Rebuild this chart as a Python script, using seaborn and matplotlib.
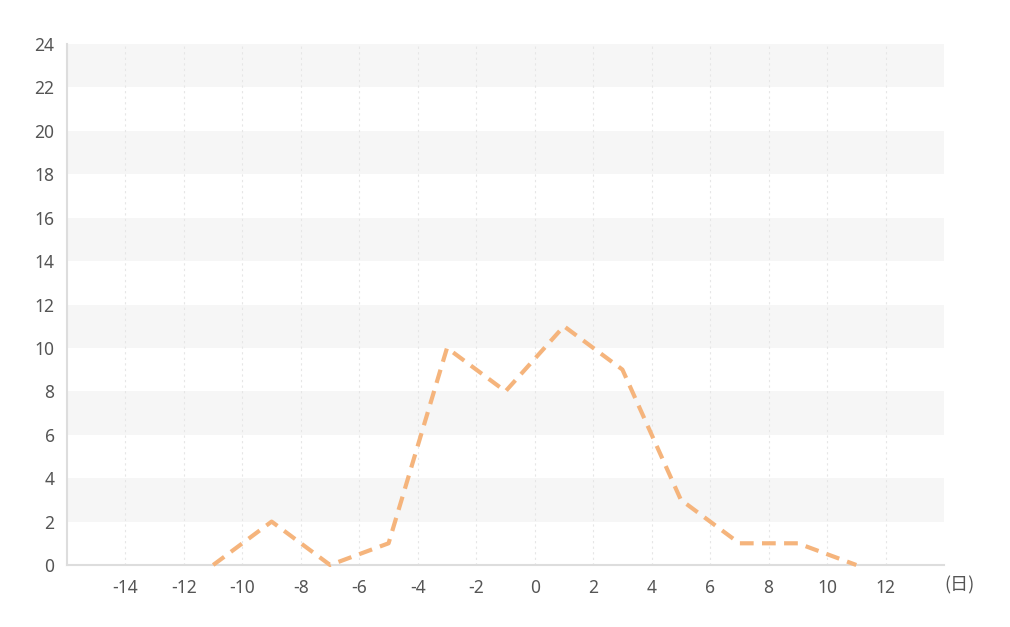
import matplotlib
matplotlib.use("Agg")
import matplotlib.pyplot as plt
import seaborn as sns
import pandas as pd

days = [-11, -9, -7, -5, -3, -1, 1, 3, 5, 7, 9, 11]
counts = [0, 2, 0, 1, 10, 8, 11, 9, 3, 1, 1, 0]
x_ticks = [-14, -12, -10, -8, -6, -4, -2, 0, 2, 4, 6, 8, 10, 12]
y_ticks = [0, 2, 4, 6, 8, 10, 12, 14, 16, 18, 20, 22, 24]
x_unit = "(日)"

sns.set_theme(style="white")
plt.rcParams['font.family'] = ['Noto Sans', 'Noto Sans CJK SC', 'DejaVu Sans']

fig = plt.figure(figsize=(10.1, 6.27), dpi=100)
ax = fig.add_axes([67/1010, 1-565/627, (944-67)/1010, (565-44)/627])

df = pd.DataFrame({"day": days, "count": counts})

# alternating bands
for i in range(len(y_ticks) - 1):
    if i % 2 == 1:
        ax.axhspan(y_ticks[i], y_ticks[i+1], color="#f6f6f6", lw=0, zorder=0)

for xt in x_ticks:
    ax.axvline(xt, color="#e6e6e6", lw=0.8, ls=(0, (2, 3)), zorder=1)

sns.lineplot(data=df, x="day", y="count", ax=ax, color="#f5b47c", lw=3,
             zorder=3, clip_on=False)
ax.lines[-1].set_dashes([3.3, 2.0])

ax.set_xlim(-16, 14)
ax.set_ylim(0, 24)
ax.set_xticks(x_ticks)
ax.set_yticks(y_ticks)
ax.set_xticklabels([str(v) for v in x_ticks])
ax.set_yticklabels([str(v) for v in y_ticks])
ax.tick_params(axis="x", labelsize=12.5, colors="#555555", length=0, pad=10)
ax.tick_params(axis="y", labelsize=12.5, colors="#555555", length=0, pad=9)
ax.set_xlabel("")
ax.set_ylabel("")
for s in ["top", "right"]:
    ax.spines[s].set_visible(False)
for s in ["left", "bottom"]:
    ax.spines[s].set_color("#dddddd")
    ax.spines[s].set_linewidth(1.5)
ax.text(1.0, -0.04, x_unit, transform=ax.transAxes, ha="left", va="center",
        fontsize=13, color="#555555", family=['Noto Sans CJK SC', 'DejaVu Sans'])
ax.grid(False)

fig.savefig("out.png", dpi=100)
